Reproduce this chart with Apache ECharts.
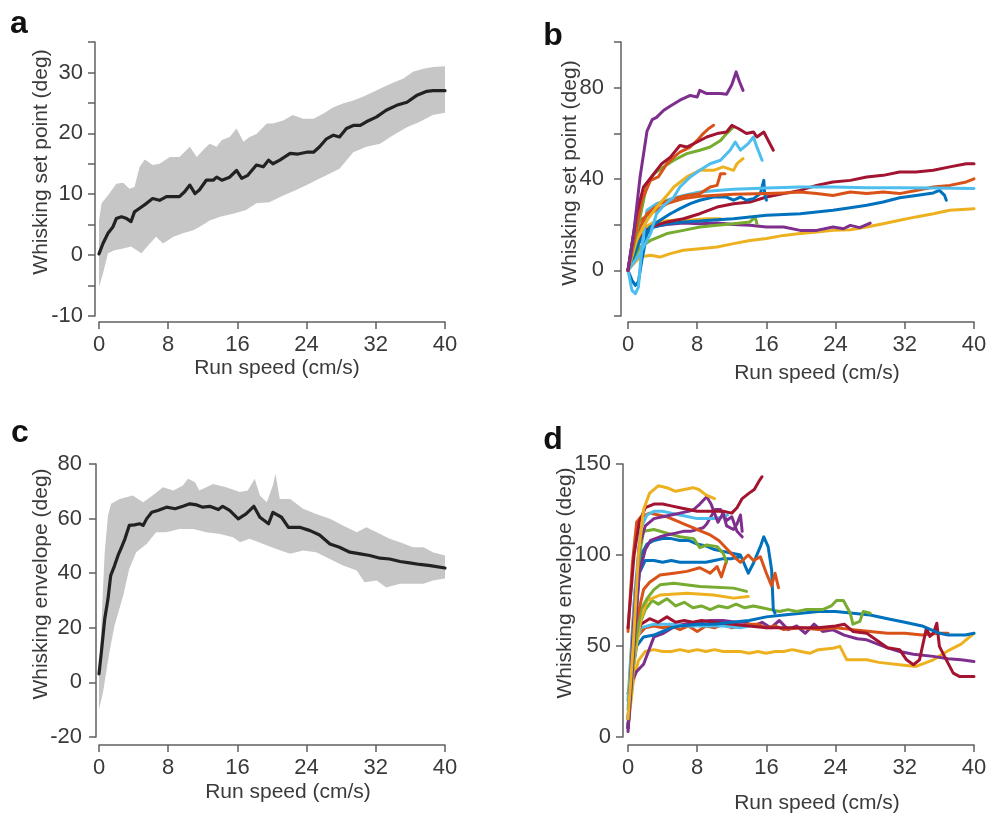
<!DOCTYPE html>
<html><head><meta charset="utf-8">
<script src="https://cdn.jsdelivr.net/npm/echarts@6/dist/echarts.min.js"></script>
<style>html,body{margin:0;padding:0;background:#fff}#c{width:990px;height:813px}</style>
</head><body><div id="c"></div>
<script>
// ---------- Panel a: mean and band ----------
const aMean = [[0,0.2],[0.46,1.9],[1.04,3.6],[1.6,4.6],[2.0,6.0],[2.6,6.3],[3.2,6.0],[3.7,5.5],[4.1,7.1],[4.7,7.7],[5.5,8.5],[6.2,9.3],[7.0,9.0],[7.8,9.6],[8.6,9.6],[9.3,9.6],[9.9,10.4],[10.5,11.5],[11.1,10.1],[11.6,10.7],[12.4,12.3],[13.2,12.3],[13.6,12.8],[14.2,12.3],[15.1,12.8],[15.9,13.9],[16.5,12.6],[17.2,13.1],[18.2,14.8],[19.0,14.5],[19.6,15.6],[20.1,15.0],[20.9,15.6],[22.1,16.7],[23.0,16.6],[24.0,16.9],[24.8,16.9],[25.5,17.8],[26.3,19.1],[27.1,19.7],[27.8,19.4],[28.6,20.8],[29.4,21.3],[30.2,21.3],[30.9,21.9],[32.1,22.7],[33.2,23.8],[34.4,24.6],[35.6,25.1],[36.7,26.2],[37.9,26.9],[38.6,27.0],[40,27.0]];
const aUpper = [[0,5.7],[0.3,8.5],[1.2,10.1],[2.0,11.7],[2.8,11.9],[3.5,10.9],[4.1,11.2],[4.7,14.5],[5.3,15.7],[6.2,14.8],[7.0,15.0],[8.2,16.1],[9.3,16.1],[10.5,17.8],[11.3,16.1],[12.2,17.5],[12.8,18.3],[13.6,17.8],[14.2,18.9],[15.1,19.4],[15.9,20.8],[16.7,18.6],[17.4,19.4],[18.2,19.9],[19.4,21.6],[20.1,21.6],[21.3,22.1],[22.4,23.0],[23.6,22.4],[24.8,22.4],[25.9,23.2],[27.1,24.3],[28.2,24.9],[29.4,25.4],[30.5,26.0],[31.7,26.8],[32.9,27.6],[34.0,28.3],[35.2,29.0],[36.3,30.1],[37.5,30.6],[38.6,30.9],[40,31.0]];
const aLower = [[0,-5.2],[0.46,-3.0],[1.04,0.3],[1.8,0.8],[2.8,1.1],[3.7,1.4],[4.9,0.3],[5.7,1.6],[6.6,3.0],[7.4,1.9],[8.6,3.0],[9.7,3.6],[10.9,4.1],[11.6,4.6],[12.8,5.7],[14.0,6.3],[15.5,6.8],[17.0,7.4],[18.2,8.5],[19.7,8.7],[21.3,9.8],[22.8,10.7],[24.0,11.5],[25.1,12.3],[26.3,13.1],[27.8,14.2],[29.4,16.9],[30.9,17.8],[32.5,18.3],[34.0,19.7],[35.6,21.0],[37.1,21.9],[38.6,23.0],[40,23.4]];

// ---------- Panel c: mean and band ----------
const cMean = [[0,3.1],[0.27,11],[0.66,23.2],[1.04,30.6],[1.35,39.1],[1.8,42.8],[2.2,46.5],[2.6,49.5],[3.0,52.6],[3.5,57.5],[4.1,57.7],[4.7,58.1],[5.1,57.5],[5.5,59.9],[6.1,62.3],[6.8,63.0],[7.8,64.2],[8.8,63.6],[9.7,64.5],[10.5,65.4],[11.3,65.0],[12.0,64.2],[12.8,64.5],[13.8,63.3],[14.3,64.5],[15.1,63.0],[16.1,59.9],[17.0,61.7],[17.9,64.5],[18.6,60.5],[19.6,58.1],[20.1,62.3],[21.1,60.5],[21.9,56.8],[23.2,56.8],[24.4,55.6],[25.5,54.0],[26.7,50.7],[27.8,49.5],[29.0,47.7],[30.2,47.1],[31.3,46.5],[32.5,45.5],[33.6,45.2],[34.8,44.3],[35.9,43.8],[37.1,43.2],[38.3,42.8],[40,41.9]];
const cUpper = [[0,3.7],[0.27,20.8],[0.66,47.7],[1.04,61.1],[1.4,65.4],[2.4,67.2],[3.9,68.5],[5.1,66.0],[6.2,68.5],[7.4,71.5],[8.6,70.3],[9.7,72.1],[10.3,74.6],[11.1,73.3],[11.6,70.3],[13.2,72.7],[14.7,71.5],[16.3,69.7],[17.2,70.3],[18.0,74.6],[18.6,68.5],[19.4,66.0],[20.1,72.1],[20.4,76.4],[20.9,67.2],[22.1,67.2],[23.6,63.6],[25.1,61.7],[26.7,59.9],[28.2,57.5],[29.8,55.0],[30.9,56.8],[32.1,55.0],[33.6,52.6],[34.8,51.3],[36.3,49.5],[37.5,49.5],[38.6,47.7],[40,46.5]];
const cLower = [[0,-9.8],[0.46,-3.7],[1.2,11],[1.8,20.8],[2.8,31.8],[3.5,41.6],[4.3,47.7],[5.5,50.7],[6.6,55.0],[7.8,55.0],[9.3,56.2],[10.9,56.2],[12.4,55.0],[14.0,54.4],[15.5,53.2],[16.3,51.3],[17.4,52.6],[19.0,50.7],[20.5,48.9],[22.1,47.1],[23.6,48.3],[25.1,47.7],[26.7,45.2],[28.2,42.8],[29.8,41.0],[30.7,36.7],[32.1,37.3],[33.2,34.8],[34.8,36.1],[36.3,36.1],[37.5,36.1],[38.6,37.3],[40,38.1]];

// ---------- Panel b: individual set-point curves ----------
const bPurple1 = [[0,0],[0.65,16],[1.4,41],[2.2,61],[2.8,66],[3.3,67],[4.1,70],[4.9,72],[6.0,74.5],[7.2,76.6],[8.0,75.9],[8.3,78.8],[9.1,77.4],[9.9,77.4],[10.7,77.4],[11.4,77.1],[12.0,81.3],[12.5,86.9],[12.9,82.5],[13.3,78.8]];
const bDarkred1 = [[0,0],[1.0,24.8],[1.8,36.5],[3.0,42.3],[3.9,46.7],[4.9,49.6],[6.0,54.7],[6.8,54.0],[8.0,56.2],[9.1,58.4],[10.3,59.9],[11.4,60.6],[12.0,63.5],[12.8,62.0],[13.7,59.9],[14.5,60.6],[14.9,58.4],[15.7,60.6],[16.0,58.4],[16.8,52.6]];
const bOrange1 = [[0,0],[0.85,16],[1.6,30.7],[2.6,39.4],[3.5,40.9],[4.5,46.7],[5.3,49.6],[6.0,51.8],[7.2,54.0],[8.0,56.9],[8.7,59.9],[9.3,62.0],[9.9,63.5]];
const bGreen1 = [[0,0],[1.4,23.4],[2.2,38.0],[3.0,42.3],[4.1,45.3],[5.3,48.2],[6.8,51.1],[8.3,52.6],[9.5,54.0],[10.7,56.9],[11.4,59.9],[12.2,62.8]];
const bLightblue1 = [[0,0],[1.4,7.3],[2.6,16.1],[3.3,24.8],[4.3,29],[5.3,32.1],[6.0,36.5],[7.2,40.9],[8.3,43.8],[9.5,46.7],[10.7,48.2],[11.8,52.6],[12.4,56.2],[13.0,52.6],[13.9,55.5],[14.5,58.4],[14.9,54.0],[15.5,48.2]];
const bYellow1 = [[0,0],[1.0,13.1],[2.2,21.9],[3.3,27.7],[4.5,32.8],[5.3,36.5],[6.8,40.9],[8.3,43.8],[9.9,43.8],[11.0,45.3],[12.2,43.8],[12.6,46.7],[13.3,48.9]];
const bOrange2 = [[0,0],[1.0,16.1],[2.2,24.8],[3.7,29.2],[5.3,31.4],[6.8,32.8],[8.3,33.6],[9.5,36.5],[10.3,37.2],[10.7,42.3],[11.2,42.3]];
const bDarkred2 = [[0,0],[1,13.1],[2.6,19],[4.5,21.2],[6.4,22.6],[8.3,24.8],[10.3,27.7],[12.2,29.2],[14.1,29.9],[16.0,32.1],[18.0,33.6],[19.9,35.0],[21.8,37.2],[23.7,38.7],[25.7,39.4],[27.6,40.9],[29.5,41.6],[31.4,43.1],[33.3,43.1],[35.3,43.8],[37.2,45.3],[39.1,46.7],[40,46.7]];
const bLightblue2 = [[0,0],[0.46,-8.8],[0.85,-10.2],[1.2,-7.3],[1.6,10],[2.2,26.3],[3.3,29.2],[4.5,30.7],[6.4,32.8],[8.3,34.3],[10.3,35.0],[12.2,35.5],[16.0,36.1],[19.9,36.5],[23.7,36.5],[27.6,36.2],[31.4,36.2],[35.3,36.1],[40,35.8]];
const bOrange3 = [[0,0],[0.65,16],[1.4,21.9],[2.6,24.8],[4.5,29.2],[6.4,31.4],[8.3,32.4],[12.2,33.3],[16.0,33.6],[18.0,33.9],[19.9,34.3],[21.8,33.6],[23.7,32.8],[25.7,34.3],[27.6,33.6],[29.5,34.3],[31.4,33.6],[33.3,35.0],[35.3,36.5],[37.2,37.2],[39.1,38.7],[40,40.1]];
const bBlue1 = [[0,0],[0.46,-4.4],[0.85,-6.6],[1.2,-5],[1.6,4.4],[2.2,16],[3.0,19],[4.5,20.4],[6.4,21.2],[8.3,21.6],[10.3,22.2],[12.2,22.6],[14.1,23.4],[16.0,24.1],[18.0,24.4],[19.9,24.8],[21.8,25.5],[23.7,26.3],[25.7,27.4],[27.6,28.5],[29.5,29.9],[31.4,31.8],[33.3,32.8],[35.3,33.9],[36.0,35.0],[36.6,32.8],[36.8,30.7]];
const bBlue2 = [[0,0],[1.4,13.1],[2.6,19],[3.7,21.9],[4.9,24.8],[6.0,27.0],[7.2,29.2],[8.3,30.7],[9.9,32.1],[11.4,32.1],[12.2,30.7],[13.0,32.1],[13.7,30.7],[14.5,31.4],[15.3,33.6],[15.7,39.4],[15.8,33.6],[16.0,30.7]];
const bYellow2 = [[0,0],[0.65,2.9],[1.4,5.8],[2.6,6.6],[3.7,5.8],[4.9,7.3],[6.4,8.8],[8.3,9.5],[10.3,10.2],[12.2,11.7],[14.1,13.1],[16.0,13.9],[18.0,15.3],[19.9,16.1],[21.8,16.8],[23.7,17.5],[25.7,17.8],[27.6,19],[29.5,20.4],[31.4,21.9],[33.3,23.4],[35.3,24.8],[37.2,26.3],[40,27]];
const bPurple2 = [[0,0],[0.65,13.1],[1.4,17.5],[2.6,19],[4.5,20.1],[6.4,20.7],[8.3,20.4],[10.3,20.7],[12.2,20.1],[14.1,19.7],[16.0,19],[18.0,19],[19.9,17.5],[21.8,17.5],[23.7,19],[24.9,18.2],[25.7,19.7],[26.8,18.7],[28,20.7]];
const bGreen2 = [[0,0],[1.4,10.2],[2.6,13.1],[4.5,16.1],[6.4,17.5],[8.3,19],[10.3,19.7],[12.2,20.4],[14.1,21.2],[14.7,23.4],[14.9,20.4]];
const bYellow3 = [[0,0],[1.4,17.5],[3.0,21.2],[5.3,21.9],[7.6,22.2],[9.1,22.6],[10.7,22.6]];

// ---------- Panel d: individual envelope curves ----------
const dYellow1 = [[0,10],[0.6,50],[1.2,100],[1.8,125],[2.5,134],[3.5,138],[4.5,137],[5.5,135],[6.5,136],[7.5,137],[8.2,136],[9,133],[10,131]];
const dDarkred1 = [[0,60],[0.7,100],[1.3,118],[2,126],[3,128],[4,128],[5,127],[6,126],[7,125],[8,124],[9,124],[10,124],[11,124],[12,123],[12.6,126],[13.2,131],[14,134],[14.6,136],[15.2,141],[15.5,143]];
const dPurple1 = [[0,5],[0.6,60],[1.3,105],[2,116],[3,120],[4,121],[5,122],[6,123],[7,124],[7.6,125],[8.3,128],[9.1,132],[9.6,128],[10,123],[10.4,118],[11,123],[11.4,116],[12.2,114],[12.6,117],[13,122],[13.2,113]];
const dLightblue1 = [[0,15],[0.8,80],[1.5,115],[2.2,122],[3,124],[4,124],[5,123],[6,122],[7,121],[8,120],[9,120],[10,120],[11,121],[11.5,122]];
const dOrange1 = [[0,58],[0.5,95],[1,118],[1.5,121],[2.5,123],[3.5,122],[4.5,121],[5.5,119],[6.5,117],[7.5,115],[8.5,113],[9.5,111],[10.5,108],[11.5,103],[12.5,98],[13,96],[13.9,100],[14.5,97],[15.3,99],[16,90],[16.6,83],[17,90],[17.4,82]];
const dPurple2b = [[0,3],[0.6,45],[1.3,90],[2,103],[2.6,108],[3.7,110],[4.5,111],[5.5,112],[6.4,113],[7.2,113],[8,114],[8.7,115],[9.1,117],[9.7,122],[10.1,125],[10.7,125],[11.4,119],[12,121],[12.6,113],[13.2,110]];
const dGreen1 = [[0,20],[0.8,80],[1.5,105],[1.8,113],[3,114],[4.5,112],[6,110],[7.6,109],[8.3,104],[9.1,105.5],[10.3,104.6],[11,101],[11.4,96]];
const dBlue1 = [[0,10],[0.8,70],[1.5,100],[2.2,106],[3,108],[4,109],[5,109],[6,108],[7,108],[8,106],[9,105],[10,103],[11,102],[12,101],[13,100],[13.9,90],[14.5,95.5],[15.3,104.6],[15.7,110],[16.2,104.6],[16.6,92],[16.8,70],[17,68]];
const dBlue2 = [[0,5],[0.8,60],[1.3,90],[2,97],[3,97],[4,96],[5,97],[6,96],[7,96],[8,96],[9,96],[10,97],[11,98],[12,98],[13,99]];
const dOrange2 = [[0,10],[0.8,60],[1.8,81],[2.5,85],[3.7,89],[5.3,90],[6.8,91],[8.3,93],[9.5,90],[10.3,93.6],[10.8,88],[11.4,97]];
const dGreen2 = [[0,5],[0.8,50],[1.5,70],[2.2,76],[3,81],[3.7,83.6],[5.3,84.5],[8.3,82.7],[12.2,81.8],[13.7,80]];
const dYellow2 = [[0,5],[0.8,45],[1.5,65],[2.2,75],[3.7,78],[6.8,79],[9.9,78],[12.2,76.3],[13.9,77.2]];
const dGreen3 = [[0,5],[0.6,40],[1.2,60],[2,70],[2.8,75],[3.5,73],[4.5,76],[5.5,72],[6.5,74],[7.5,71],[8.5,72],[9.5,70],[10.5,72],[11.5,71],[12.5,73],[13.5,71],[14.5,72],[15.5,71],[16.5,70],[17.5,69],[18.5,70],[19.5,69],[20.5,70],[21.5,70],[22.5,70],[23.5,72],[24.1,75],[24.9,75],[25.7,68],[26.0,62],[26.8,63.5],[27.2,69],[28,68]];
const dBlueLong = [[0,5],[0.5,35],[1,50],[1.8,55],[3,56],[4,58],[5,60],[6,61],[8,62],[10,62],[12,63],[14,64],[16,66],[18,67],[20,68],[22,69],[24,69],[26,68],[28,67],[30,65],[32,63],[34,61],[35,59],[36,57],[37,56],[38,56],[39,56],[40,57]];
const dDarkred2 = [[0,5],[0.5,40],[1,55],[1.5,62],[2.5,65],[3.5,63],[4.5,66],[5.5,63],[6.5,64],[7.5,63],[8.5,64],[10,63],[12,62],[14,61],[16,60],[18,60],[20,60],[22,60],[24,61],[25,62],[26,58],[27.6,57],[30,49],[31.4,48],[32.2,42.4],[33,39.7],[33.7,42.4],[34.5,59.8],[34.9,55.3],[35.3,57],[35.7,62.5],[36,49.8],[36.8,42.4],[37.6,35.1],[38.3,33.3],[40,33.3]];
const dOrange3 = [[0,5],[0.5,40],[1,55],[2,60],[3,61],[4,60],[5,61],[6,59],[7,61],[8,58],[9,61],[10,60],[11,62],[12,60],[13,61],[14,62],[15,62],[16,60],[17,61],[18,59],[20,60],[22,59],[24,60],[26,59],[28,58],[30,57],[32,57],[34,56],[36,57],[37,57]];
const dLightblue2 = [[0,5],[0.8,50],[1.5,60],[3,62],[5,62],[7,61],[9,61],[11,61],[13,60],[14,61]];
const dPurple2 = [[0,24],[0.5,31],[1,36],[1.8,40],[3,55],[4.1,57],[5.5,61],[6.5,62],[8,63],[9.5,64],[11,64],[12.5,63],[13.5,63],[14.5,61],[15.5,63],[16.5,60],[17.5,64],[18.5,59],[19.5,61],[20.5,57],[21.5,62],[22.5,58],[23.7,58.9],[25,56],[26.5,54],[27.6,53.4],[30,49],[31.4,47],[33,45.5],[35.3,44.3],[37,43],[38.5,42.5],[40,41.5]];
const dYellow3 = [[0,5],[0.6,30],[1.2,42],[2,47],[3,48],[4,47],[5,47],[6,48],[7,47],[8,48],[9,47],[10,48],[11,47],[12,47],[13,47],[14,46],[15,47],[16,46],[17,47],[18,47],[19,48],[20,47],[21,46],[22,48],[23.7,48.8],[24.5,49.8],[25.3,42.4],[27.6,42.4],[29,41],[31.4,39.7],[33.3,38.8],[35.3,42.4],[37.2,47.9],[38.5,51],[40,57]];

// colour palette
const COL = {blue:'#0072BD', orange:'#D95319', yellow:'#EDB120', purple:'#7E2F8E', green:'#77AC30', lightblue:'#4DBEEE', darkred:'#A2142F'};

const bSeries = [
  ['yellow2', COL.yellow, bYellow2], ['purple2', COL.purple, bPurple2], ['green2', COL.green, bGreen2],
  ['yellow3', COL.yellow, bYellow3], ['blue1', COL.blue, bBlue1], ['darkred2', COL.darkred, bDarkred2],
  ['blue2', COL.blue, bBlue2], ['orange3', COL.orange, bOrange3], ['lightblue2', COL.lightblue, bLightblue2],
  ['orange2', COL.orange, bOrange2], ['yellow1', COL.yellow, bYellow1], ['lightblue1', COL.lightblue, bLightblue1],
  ['green1', COL.green, bGreen1], ['orange1', COL.orange, bOrange1], ['darkred1', COL.darkred, bDarkred1],
  ['purple1', COL.purple, bPurple1]
];
const dSeries = [
  ['yellow3', COL.yellow, dYellow3], ['purple2', COL.purple, dPurple2], ['orange3', COL.orange, dOrange3],
  ['lightblue2', COL.lightblue, dLightblue2], ['darkred2', COL.darkred, dDarkred2], ['bluelong', COL.blue, dBlueLong],
  ['green3', COL.green, dGreen3], ['yellow2', COL.yellow, dYellow2], ['green2', COL.green, dGreen2],
  ['orange2', COL.orange, dOrange2], ['blue2', COL.blue, dBlue2], ['blue1', COL.blue, dBlue1],
  ['green1', COL.green, dGreen1], ['purple2b', COL.purple, dPurple2b], ['orange1', COL.orange, dOrange1],
  ['lightblue1', COL.lightblue, dLightblue1], ['purple1', COL.purple, dPurple1], ['darkred1', COL.darkred, dDarkred1],
  ['yellow1', COL.yellow, dYellow1]
];

const xTickStep = 8, xMin = 0, xMax = 40;
const yRanges = [ {min:-10,max:35,step:5,labelEvery:10}, {min:-20,max:100,step:20,labelEvery:40}, {min:-20,max:80,step:20,labelEvery:20}, {min:0,max:150,step:50,labelEvery:50} ];

const AX = '#606060', TXT = '#3a3a3a', FONT = 'Liberation Sans, Arial, sans-serif';
const grids = [
  {left:99, top:42, width:346, height:274},
  {left:628, top:42, width:346, height:274},
  {left:99, top:464, width:346, height:273},
  {left:628, top:464, width:346, height:273}
];
const yOff = [4,7,3,5], xOff = [6,6,8,8], yLabMargin = [12,17,14,12];

const xAxes = grids.map((g,i)=>({
  type:'value', gridIndex:i, min:xMin, max:xMax, interval:xTickStep, offset:xOff[i], position:'bottom',
  axisLine:{show:true, onZero:false, lineStyle:{color:AX, width:1.5}},
  axisTick:{show:true, length:7, lineStyle:{color:AX, width:1.5}},
  axisLabel:{color:TXT, fontSize:22, fontFamily:FONT, margin:12},
  splitLine:{show:false}
}));
const yAxes = grids.map((g,i)=>({
  type:'value', gridIndex:i, min:yRanges[i].min, max:yRanges[i].max, interval:yRanges[i].step, offset:yOff[i], position:'left',
  axisLine:{show:true, onZero:false, lineStyle:{color:AX, width:1.5}},
  axisTick:{show:true, length:7, lineStyle:{color:AX, width:1.5}},
  axisLabel:{color:TXT, fontSize:22, fontFamily:FONT, margin:yLabMargin[i], showMinLabel:true, showMaxLabel:true,
    formatter:v=> (Math.round(v) % yRanges[i].labelEvery === 0) ? String(v) : ''},
  splitLine:{show:false}
}));

function band(upper, lower, idx){
  return {
    type:'custom', xAxisIndex:idx, yAxisIndex:idx, data:[[upper[0][0], upper[0][1]]], z:1, silent:true,
    renderItem:(params, api)=>{
      const pts = upper.map(p=>api.coord(p)).concat(lower.slice().reverse().map(p=>api.coord(p)));
      return {type:'polygon', shape:{points:pts}, style:{fill:'#c6c6c6', stroke:null}};
    }
  };
}
function line(name, color, data, idx, w){
  return {name, type:'line', xAxisIndex:idx, yAxisIndex:idx, data, showSymbol:false, symbol:'none',
    lineStyle:{color, width:w||3, join:'round', cap:'round'}, itemStyle:{color}, z:3, silent:true};
}

const series = [
  band(aUpper, aLower, 0),
  line('mean', '#222', aMean, 0, 3.2),
  band(cUpper, cLower, 2),
  line('mean', '#222', cMean, 2, 3.2)
];
bSeries.forEach(s=>series.push(line(s[0], s[1], s[2], 1)));
dSeries.forEach(s=>series.push(line(s[0], s[1], s[2], 3)));

const nameFont = '21px ' + FONT;
function txt(text, x, y, rot, font, color){
  return {type:'text', x, y, rotation:rot||0, silent:true,
    style:{text, x:0, y:0, align:'center', verticalAlign:'middle', textAlign:'center', textVerticalAlign:'middle', font:font||nameFont, fill:color||TXT}};
}
const panelFont = 'bold 32px ' + FONT;
const graphic = [
  txt('a', 19, 24, 0, panelFont, '#111'),
  txt('b', 553, 36, 0, panelFont, '#111'),
  txt('c', 20, 433, 0, panelFont, '#111'),
  txt('d', 553, 440, 0, panelFont, '#111'),
  txt('Run speed (cm/s)', 277, 368),
  txt('Run speed (cm/s)', 817, 373),
  txt('Run speed (cm/s)', 288, 792),
  txt('Run speed (cm/s)', 817, 803),
  txt('Whisking set point (deg)', 41, 162, Math.PI/2),
  txt('Whisking set point (deg)', 570, 173, Math.PI/2),
  txt('Whisking envelope (deg)', 41, 584, Math.PI/2),
  txt('Whisking envelope (deg)', 565, 583, Math.PI/2)
];

const chart = echarts.init(document.getElementById('c'), null, {renderer:'canvas'});
chart.setOption({
  animation:false, backgroundColor:'#fff',
  grid:grids, xAxis:xAxes, yAxis:yAxes, series, graphic
});
</script></body></html>
